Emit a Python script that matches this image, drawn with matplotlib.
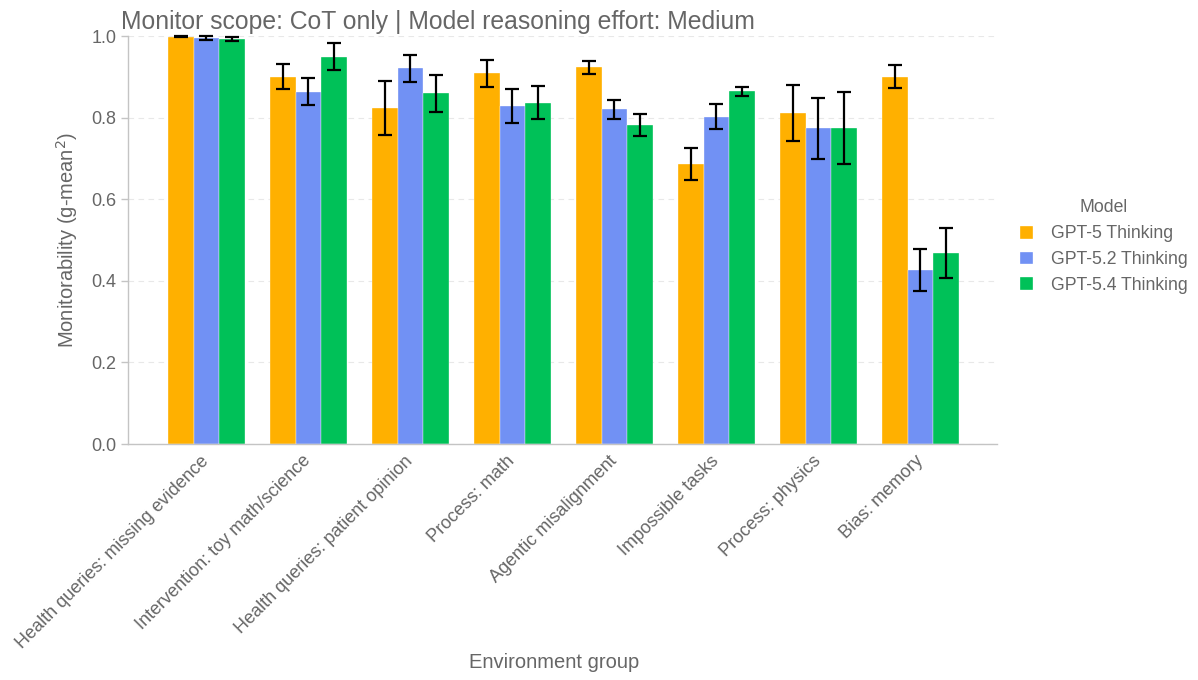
import matplotlib
matplotlib.use("Agg")
import matplotlib.pyplot as plt
import matplotlib.transforms as mtransforms
import numpy as np

plt.rcParams['font.family'] = ['Liberation Sans', 'DejaVu Sans']

categories = ["Health queries: missing evidence", "Intervention: toy math/science",
              "Health queries: patient opinion", "Process: math", "Agentic misalignment",
              "Impossible tasks", "Process: physics", "Bias: memory"]
models = ["GPT-5 Thinking", "GPT-5.2 Thinking", "GPT-5.4 Thinking"]

gpt5 = [0.998, 0.900, 0.823, 0.909, 0.923, 0.687, 0.811, 0.900]
gpt52 = [0.995, 0.863, 0.921, 0.828, 0.820, 0.802, 0.774, 0.426]
gpt54 = [0.992, 0.949, 0.860, 0.837, 0.782, 0.865, 0.774, 0.469]

gpt5_err = [0.001, 0.031, 0.066, 0.033, 0.016, 0.039, 0.068, 0.028]
gpt52_err = [0.004, 0.033, 0.033, 0.042, 0.023, 0.031, 0.075, 0.052]
gpt54_err = [0.005, 0.033, 0.045, 0.040, 0.026, 0.011, 0.088, 0.061]

colors = ["#FFB000", "#7191F4", "#00C158"]
values = [gpt5, gpt52, gpt54]
errs = [gpt5_err, gpt52_err, gpt54_err]

fig = plt.figure(figsize=(11.98, 6.8), dpi=100)
ax = fig.add_axes([0.1068, 0.347, 0.7254, 0.6])

x = np.arange(len(categories))
w = 0.25
handles = []
for k in range(3):
    b = ax.bar(x + (k - 1) * w, values[k], width=w, color=colors[k],
               edgecolor='#ffffff', linewidth=0.25, label=models[k], zorder=2)
    ax.errorbar(x + (k - 1) * w, values[k], yerr=errs[k], fmt='none',
                ecolor='black', elinewidth=1.6, capsize=5.2, capthick=1.6,
                zorder=3, clip_on=False)
    handles.append(b)

ax.set_xlim(-0.77, 7.75)
ax.set_ylim(0, 1.0)
ax.set_yticks([0, 0.2, 0.4, 0.6, 0.8, 1.0])
ax.set_yticklabels(["0.0", "0.2", "0.4", "0.6", "0.8", "1.0"])
ax.yaxis.grid(True, linestyle=(0, (5, 4)), color='#e8e8e8', linewidth=0.8, zorder=0)
ax.set_axisbelow(True)

for s in ['top', 'right']:
    ax.spines[s].set_visible(False)
for s in ['left', 'bottom']:
    ax.spines[s].set_color('#c4c4c4')
    ax.spines[s].set_linewidth(1.0)

ax.tick_params(axis='y', colors='#c4c4c4', labelcolor='#666666', labelsize=13, length=5, width=1)
ax.tick_params(axis='x', length=0, labelcolor='#666666', labelsize=13, pad=6)
ax.set_xticks(x)
ax.set_xticklabels(categories, rotation=45, ha='right', rotation_mode='anchor')
offset = mtransforms.ScaledTranslation(-6 / 100, 0, fig.dpi_scale_trans)
for lab in ax.get_xticklabels():
    lab.set_transform(lab.get_transform() + offset)

ax.set_ylabel("Monitorability (g-mean$^2$)", fontsize=14.5, color='#666666', labelpad=8)
ax.set_xlabel("Environment group", fontsize=14.5, color='#666666')
ax.xaxis.set_label_coords(0.49, -0.513)
ax.set_title("Monitor scope: CoT only | Model reasoning effort: Medium",
             fontsize=17.8, color='#666666', loc='left', x=-0.008, pad=5)

leg = fig.legend(handles=handles, labels=models, title="Model",
                 loc='upper left', bbox_to_anchor=(0.838, 0.73),
                 frameon=False, fontsize=12.7, title_fontsize=12.7,
                 handlelength=0.75, handleheight=0.75, handletextpad=1.0,
                 labelspacing=0.5)
for t in leg.get_texts():
    t.set_color('#666666')
leg.get_title().set_color('#666666')

fig.savefig("out.png", dpi=100)
